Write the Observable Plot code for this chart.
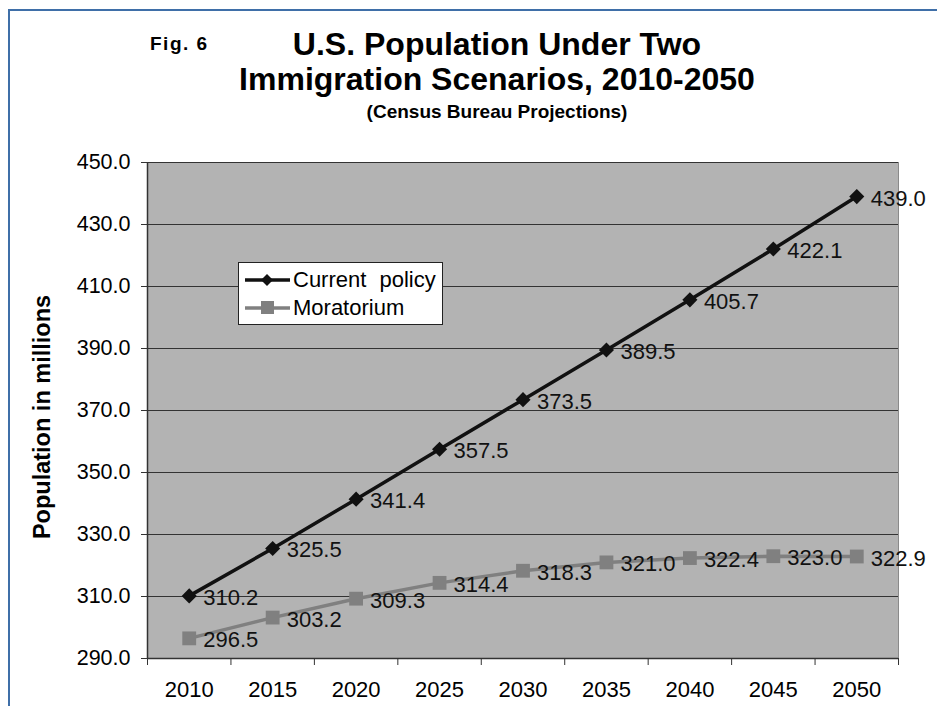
<!DOCTYPE html>
<html>
<head>
<meta charset="utf-8">
<script src="https://cdn.jsdelivr.net/npm/d3@7"></script>
<script src="https://cdn.jsdelivr.net/npm/@observablehq/plot@0.6"></script>
<style>
  html, body { margin: 0; padding: 0; background: #fff; }
  #page { position: relative; width: 937px; height: 706px; overflow: hidden; font-family: "Liberation Sans", Arial, sans-serif; color: #000; }
  #border { position: absolute; left: 8px; top: 9px; right: -10px; bottom: -10px; border-top: 2px solid #3f6fa8; border-left: 2px solid #3f6fa8; }
  #fig { position: absolute; left: 150px; top: 33px; font-size: 19px; font-weight: bold; letter-spacing: 1.5px; }
  #title { position: absolute; left: 0; width: 994px; top: 27px; text-align: center; font-size: 32px; font-weight: bold; line-height: 35px; }
  #subtitle { position: absolute; left: 0; width: 994px; top: 101px; text-align: center; font-size: 19px; font-weight: bold; }
  #ylabel { position: absolute; left: 42px; top: 417px; transform: translate(-50%, -50%) rotate(-90deg); font-size: 23.5px; font-weight: bold; white-space: nowrap; }
  #chart { position: absolute; left: 0; top: 140px; }
  #legend { position: absolute; left: 238px; top: 262px; width: 203px; height: 61px; background: #fff; border: 1px solid #222; font-size: 22px; }
  .item { position: absolute; left: 6px; height: 26px; display: flex; align-items: center; }
  .item svg { margin-right: 3px; }
</style>
</head>
<body>
<div id="page">
  <div id="border"></div>
  <div id="fig">Fig. 6</div>
  <div id="title">U.S. Population Under Two<br>Immigration Scenarios, 2010-2050</div>
  <div id="subtitle">(Census Bureau Projections)</div>
  <div id="chart"></div>
  <div id="ylabel">Population in millions</div>
  <div id="legend"></div>
</div>
<script>
const years = [2010, 2015, 2020, 2025, 2030, 2035, 2040, 2045, 2050];
const currentPolicy = [310.2, 325.5, 341.4, 357.5, 373.5, 389.5, 405.7, 422.1, 439.0];
const moratorium = [296.5, 303.2, 309.3, 314.4, 318.3, 321.0, 322.4, 323.0, 322.9];
const yTicks = [290, 310, 330, 350, 370, 390, 410, 430, 450];
const seriesNames = ["Current policy", "Moratorium"];

const half = (years[1] - years[0]) / 2;
const boundaries = years.map(y => y - half).concat([years[years.length - 1] + half]);

const cur = years.map((y, i) => ({year: y, value: currentPolicy[i]}));
const mor = years.map((y, i) => ({year: y, value: moratorium[i]}));

const colCur = "#111111";
const colMor = "#808080";

const chart = Plot.plot({
  width: 937,
  height: 566,
  marginTop: 22,
  marginBottom: 48,
  marginLeft: 147,
  marginRight: 39,
  style: {fontFamily: "Liberation Sans, Arial, sans-serif", background: "transparent"},
  x: {domain: [boundaries[0], boundaries[boundaries.length - 1]]},
  y: {domain: [yTicks[0], yTicks[yTicks.length - 1]]},
  marks: [
    Plot.frame({fill: "#b3b3b3", stroke: "#8a8a8a"}),
    Plot.ruleY(yTicks, {stroke: "#333", strokeWidth: 1}),
    Plot.ruleX([boundaries[0]], {stroke: "#333", strokeWidth: 1.5}),
    Plot.ruleY([yTicks[0]], {stroke: "#333", strokeWidth: 1.5}),
    Plot.axisY({ticks: yTicks, tickFormat: d => d.toFixed(1), tickSize: 6, tickPadding: 11, fontSize: 21.5, label: null, stroke: "#333", fill: "#000"}),
    Plot.axisX({ticks: boundaries, tickFormat: () => "", tickSize: 7, label: null, stroke: "#333"}),
    Plot.axisX({ticks: years, tickFormat: d => String(d), tickSize: 0, tickPadding: 23, fontSize: 22, label: null, fill: "#000"}),
    Plot.line(mor, {x: "year", y: "value", stroke: colMor, strokeWidth: 3.5}),
    Plot.dot(mor, {x: "year", y: "value", symbol: "square", r: 7.8, fill: colMor, stroke: "none"}),
    Plot.line(cur, {x: "year", y: "value", stroke: colCur, strokeWidth: 3.5}),
    Plot.dot(cur, {x: "year", y: "value", symbol: "diamond2", r: 6.8, fill: colCur, stroke: "none"}),
    Plot.text(mor, {x: "year", y: "value", text: d => d.value.toFixed(1), textAnchor: "start", dx: 14, dy: 2, fontSize: 22, fill: "#111"}),
    Plot.text(cur, {x: "year", y: "value", text: d => d.value.toFixed(1), textAnchor: "start", dx: 14, dy: 2, fontSize: 22, fill: "#111"})
  ]
});
document.getElementById("chart").appendChild(chart);

// legend
const legend = document.getElementById("legend");
const legendDefs = [
  {name: seriesNames[0], color: colCur, shape: "diamond"},
  {name: seriesNames[1], color: colMor, shape: "square"}
];
legendDefs.forEach((d, i) => {
  const item = document.createElement("div");
  item.className = "item";
  item.style.top = (4 + i * 28) + "px";
  const marker = d.shape === "diamond"
    ? `<path d="M22,7 L28,13 L22,19 L16,13 Z" fill="${d.color}"/>`
    : `<rect x="16" y="6" width="13" height="13" fill="${d.color}"/>`;
  item.innerHTML = `<svg width="45" height="26"><line x1="0" y1="13" x2="45" y2="13" stroke="${d.color}" stroke-width="3.5"/>${marker}</svg><span${i === 0 ? ' style="word-spacing:7px"' : ''}>${d.name}</span>`;
  legend.appendChild(item);
});
</script>
</body>
</html>
